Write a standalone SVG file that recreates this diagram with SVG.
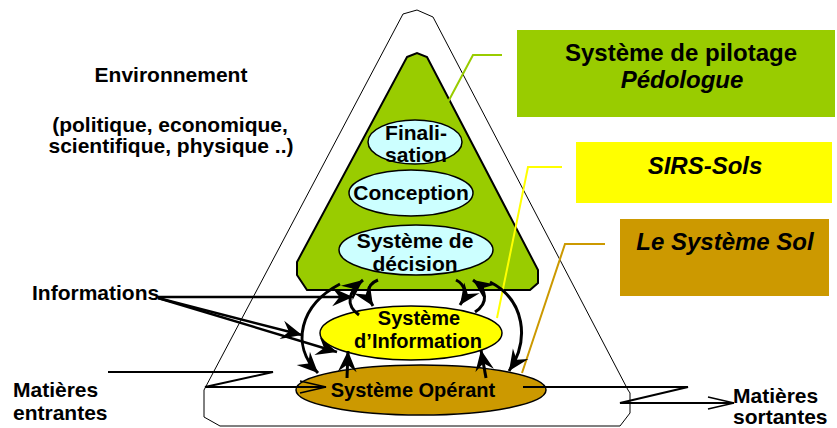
<svg xmlns="http://www.w3.org/2000/svg" width="837" height="428" viewBox="0 0 837 428">
<defs>
<marker id="ah" markerUnits="userSpaceOnUse" markerWidth="26" markerHeight="24" viewBox="-23 -11 25 22" refX="0" refY="0" orient="auto">
<path d="M0,0 L-20,-9 L-13,0 L-20,9 Z" fill="#000"/>
</marker>
<marker id="oh" markerUnits="userSpaceOnUse" markerWidth="30" markerHeight="16" viewBox="-28 -8 30 16" refX="0" refY="0" orient="auto">
<path d="M-26,-6 L0,0 L-26,6" fill="none" stroke="#000" stroke-width="1.5"/>
</marker>
</defs>
<style>
text{font-family:"Liberation Sans",Arial,sans-serif;font-weight:bold;fill:#000}
.t21{font-size:21px}
.t20{font-size:20px}
.t24{font-size:24px}
.it{font-style:italic}
.c{text-anchor:middle}
.arr{fill:none;stroke:#000;stroke-width:3;marker-end:url(#ah)}
.inf{fill:none;stroke:#000;stroke-width:2.5;marker-end:url(#ah)}
.flow{fill:none;stroke:#000;stroke-width:2;marker-end:url(#oh)}
.ell{fill:#CCFFFF;stroke:#000;stroke-width:1.5}
</style>
<rect width="837" height="428" fill="#fff"/>

<g id="environnement">
<polygon points="403,14 417,10 433,17 628,390 630,393 630,413 620,426 220,426 204,417 204,390" fill="none" stroke="#000" stroke-width="1"/>
<text class="t21 c" x="171" y="82">Environnement</text>
<text class="t21 c" x="170" y="132">(politique, economique,</text>
<text class="t21 c" x="171" y="153">scientifique, physique ..)</text>
</g>

<g id="pilotage">
<polygon points="407,57 417,53 427,57 538,270 538,283 530,290 307,290 297,275 297,262" fill="#99CC00" stroke="#000" stroke-width="2"/>
</g>

<g id="finalisation">
<ellipse class="ell" cx="415" cy="142" rx="47" ry="22"/>
<text class="t21 c" x="416" y="140">Finali-</text>
<text class="t21 c" x="416" y="162">sation</text>
</g>
<g id="conception">
<ellipse class="ell" cx="411" cy="193" rx="62" ry="23"/>
<text class="t21 c" x="411" y="200">Conception</text>
</g>
<g id="decision">
<ellipse class="ell" cx="416" cy="250" rx="77" ry="25"/>
<text class="t21 c" x="415" y="248">Système de</text>
<text class="t21 c" x="415" y="271">décision</text>
</g>

<g id="information">
<ellipse cx="411" cy="333" rx="91" ry="27" fill="#FFFF00" stroke="#000" stroke-width="1.5"/>
<text class="t20 c" x="419" y="325">Système</text>
<text class="t20 c" x="418" y="348">d’Information</text>
</g>

<g id="operant">
<ellipse cx="421" cy="390" rx="125" ry="25" fill="#CC9900" stroke="#000" stroke-width="1.5"/>
<text class="t20 c" x="413" y="397">Système Opérant</text>
</g>

<g id="box-pilotage">
<rect x="517" y="30" width="318" height="87" fill="#99CC00"/>
<text class="t24 c" x="681" y="61">Système de pilotage</text>
<text class="t24 c it" x="682" y="88">Pédologue</text>
</g>
<g id="box-sirs">
<rect x="576" y="142" width="256" height="61" fill="#FFFF00"/>
<text class="t24 c it" x="705" y="174">SIRS-Sols</text>
</g>
<g id="box-sol">
<rect x="620" y="219" width="209" height="77" fill="#CC9900"/>
<text class="t24 c it" x="725" y="250">Le Système Sol</text>
</g>

<g id="connectors">
<polyline points="502,55 473,55 448,102" fill="none" stroke="#99CC00" stroke-width="2"/>
<polyline points="562,167 528,167 497,318" fill="none" stroke="#FFFF00" stroke-width="2"/>
<polyline points="605,244 565,244 522,373" fill="none" stroke="#CC9900" stroke-width="2"/>

<path class="inf" d="M158,297 L353,297"/>
<path class="inf" d="M158,298 L302,335"/>
<path class="inf" d="M158,298 L337,352"/>

<path class="arr" d="M340,284 C300,305 290,345 318,373"/>
<path class="arr" d="M490,282 C525,300 530,340 509,371"/>

<path class="arr" d="M359,315 C345,305 348,292 363,280"/>
<path class="arr" d="M378,280 C366,285 366,295 373,306"/>
<path class="arr" d="M456,280 C466,285 467,295 460,305"/>
<path class="arr" d="M475,312 C489,303 487,290 473,280"/>

<path class="arr" d="M347,378 L348,351"/>
<path class="arr" d="M486,378 L481,350"/>

<polyline class="flow" points="108,372 273,372 205,387 326,387"/>
<polyline class="flow" points="523,387 688,387 620,403 734,403"/>
</g>

<g id="labels">
<text class="t21" x="32" y="300">Informations</text>
<text class="t21" x="13" y="397">Matières</text>
<text class="t21" x="13" y="420">entrantes</text>
<text class="t21" x="733" y="403">Matières</text>
<text class="t21" x="733" y="424">sortantes</text>
</g>
</svg>
